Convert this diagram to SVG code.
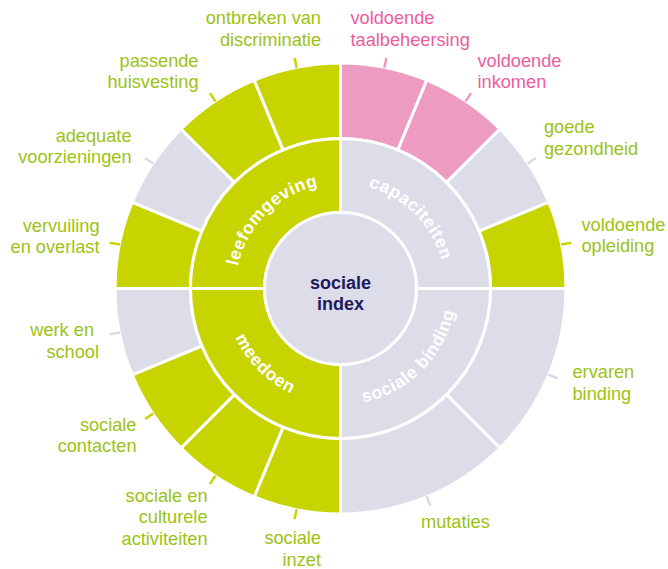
<svg xmlns="http://www.w3.org/2000/svg" width="668" height="569" viewBox="0 0 668 569">
<style>
.g{fill:#c8d400}
.p{fill:#ee9bc1}
.y{fill:#dddde9}
.seg{stroke:#fff;stroke-width:3;stroke-linejoin:miter}
.tk{stroke-width:2.5;fill:none}
.tg{stroke:#c8d400}
.tp{stroke:#ee9bc1}
.ty{stroke:#d9d9e7}
.lbl{font-family:"Liberation Sans",Arial,Helvetica,sans-serif;font-size:18.2px}
.lg{fill:#9bc314}
.lp{fill:#ec5d9e}
.ring{font-family:"Liberation Sans",Arial,Helvetica,sans-serif;font-size:17.5px;font-weight:bold;fill:#fff;letter-spacing:0.6px}
.ctr{font-family:"Liberation Sans",Arial,Helvetica,sans-serif;font-size:18px;font-weight:bold;fill:#1e1a5c}
</style>
<defs>
<path id="arcTL" d="M235.5,288.5 A105,105 0 0 1 340.5,183.5"/>
<path id="arcTR" d="M340.5,183.5 A105,105 0 0 1 445.5,288.5"/>
<path id="arcBL" d="M224.5,288.5 A116,116 0 0 0 340.5,404.5"/>
<path id="arcBR" d="M340.5,404.5 A116,116 0 0 0 456.5,288.5"/>
</defs>

<g id="outer-ring">
<path id="seg-taalbeheersing" class="seg p" d="M340.5,63 A225.5,225.5 0 0 1 426.8,80.16 L397.9,149.92 A150,150 0 0 0 340.5,138.5 Z"/>
<path id="seg-inkomen" class="seg p" d="M426.8,80.16 A225.5,225.5 0 0 1 499.95,129.05 L446.57,182.43 A150,150 0 0 0 397.9,149.92 Z"/>
<path id="seg-gezondheid" class="seg y" d="M499.95,129.05 A225.5,225.5 0 0 1 548.84,202.2 L479.08,231.1 A150,150 0 0 0 446.57,182.43 Z"/>
<path id="seg-opleiding" class="seg g" d="M548.84,202.2 A225.5,225.5 0 0 1 566,288.5 L490.5,288.5 A150,150 0 0 0 479.08,231.1 Z"/>
<path id="seg-ervaren" class="seg y" d="M566,288.5 A225.5,225.5 0 0 1 499.95,447.95 L446.57,394.57 A150,150 0 0 0 490.5,288.5 Z"/>
<path id="seg-mutaties" class="seg y" d="M499.95,447.95 A225.5,225.5 0 0 1 340.5,514 L340.5,438.5 A150,150 0 0 0 446.57,394.57 Z"/>
<path id="seg-inzet" class="seg g" d="M340.5,514 A225.5,225.5 0 0 1 254.2,496.84 L283.1,427.08 A150,150 0 0 0 340.5,438.5 Z"/>
<path id="seg-activiteiten" class="seg g" d="M254.2,496.84 A225.5,225.5 0 0 1 181.05,447.95 L234.43,394.57 A150,150 0 0 0 283.1,427.08 Z"/>
<path id="seg-contacten" class="seg g" d="M181.05,447.95 A225.5,225.5 0 0 1 132.16,374.8 L201.92,345.9 A150,150 0 0 0 234.43,394.57 Z"/>
<path id="seg-werk" class="seg y" d="M132.16,374.8 A225.5,225.5 0 0 1 115,288.5 L190.5,288.5 A150,150 0 0 0 201.92,345.9 Z"/>
<path id="seg-vervuiling" class="seg g" d="M115,288.5 A225.5,225.5 0 0 1 132.16,202.2 L201.92,231.1 A150,150 0 0 0 190.5,288.5 Z"/>
<path id="seg-voorzieningen" class="seg y" d="M132.16,202.2 A225.5,225.5 0 0 1 181.05,129.05 L234.43,182.43 A150,150 0 0 0 201.92,231.1 Z"/>
<path id="seg-huisvesting" class="seg g" d="M181.05,129.05 A225.5,225.5 0 0 1 254.2,80.16 L283.1,149.92 A150,150 0 0 0 234.43,182.43 Z"/>
<path id="seg-discriminatie" class="seg g" d="M254.2,80.16 A225.5,225.5 0 0 1 340.5,63 L340.5,138.5 A150,150 0 0 0 283.1,149.92 Z"/>
</g>

<g id="middle-ring">
<g id="leefomgeving">
<path class="seg g" d="M190.5,288.5 A150,150 0 0 1 340.5,138.5 L340.5,212.5 A76,76 0 0 0 264.5,288.5 Z"/>
<text class="ring"><textPath href="#arcTL" startOffset="50%" text-anchor="middle">leefomgeving</textPath></text>
</g>
<g id="capaciteiten">
<path class="seg y" d="M340.5,138.5 A150,150 0 0 1 490.5,288.5 L416.5,288.5 A76,76 0 0 0 340.5,212.5 Z"/>
<text class="ring"><textPath href="#arcTR" startOffset="50%" text-anchor="middle">capaciteiten</textPath></text>
</g>
<g id="sociale-binding">
<path class="seg y" d="M490.5,288.5 A150,150 0 0 1 340.5,438.5 L340.5,364.5 A76,76 0 0 0 416.5,288.5 Z"/>
<text class="ring"><textPath href="#arcBR" startOffset="50%" text-anchor="middle">sociale binding</textPath></text>
</g>
<g id="meedoen">
<path class="seg g" d="M340.5,438.5 A150,150 0 0 1 190.5,288.5 L264.5,288.5 A76,76 0 0 0 340.5,364.5 Z"/>
<text class="ring"><textPath href="#arcBL" startOffset="50%" text-anchor="middle">meedoen</textPath></text>
</g>
</g>

<g id="center">
<circle class="seg y" cx="340.5" cy="288.5" r="76"/>
<text class="ctr" x="340.5" y="289" text-anchor="middle">sociale</text>
<text class="ctr" x="340.5" y="310" text-anchor="middle">index</text>
</g>

<g id="connectors">
<line class="tk tp" x1="384.4" y1="67.82" x2="386.35" y2="58.01"/>
<line class="tk tp" x1="465.5" y1="101.42" x2="471.06" y2="93.1"/>
<line class="tk ty" x1="527.58" y1="163.5" x2="535.9" y2="157.94"/>
<line class="tk tg" x1="561.18" y1="244.6" x2="571.35" y2="242.65"/>
<line class="tk ty" x1="548.37" y1="374.6" x2="557.61" y2="378.43"/>
<line class="tk ty" x1="426.6" y1="496.37" x2="430.43" y2="505.61"/>
<line class="tk tg" x1="296.6" y1="509.18" x2="294.65" y2="518.99"/>
<line class="tk tg" x1="215.5" y1="475.58" x2="209.94" y2="483.9"/>
<line class="tk tg" x1="153.42" y1="413.5" x2="145.1" y2="419.06"/>
<line class="tk ty" x1="119.82" y1="332.4" x2="109.65" y2="334.35"/>
<line class="tk tg" x1="119.82" y1="244.6" x2="109.65" y2="242.65"/>
<line class="tk ty" x1="153.42" y1="163.5" x2="145.1" y2="157.94"/>
<line class="tk tg" x1="215.5" y1="101.42" x2="209.94" y2="93.1"/>
<line class="tk tg" x1="296.6" y1="67.82" x2="294.65" y2="58.01"/>
</g>

<g id="labels">
<g id="lbl-discriminatie" class="lbl lg" text-anchor="end"><text x="321" y="24">ontbreken van</text><text x="321" y="45.5">discriminatie</text></g>
<g id="lbl-taalbeheersing" class="lbl lp"><text x="350.5" y="24">voldoende</text><text x="350.5" y="45.5">taalbeheersing</text></g>
<g id="lbl-inkomen" class="lbl lp"><text x="477.5" y="66.5">voldoende</text><text x="477.5" y="88">inkomen</text></g>
<g id="lbl-gezondheid" class="lbl lg"><text x="544" y="133">goede</text><text x="544" y="154.5">gezondheid</text></g>
<g id="lbl-opleiding" class="lbl lg"><text x="581.5" y="230.5">voldoende</text><text x="581.5" y="252">opleiding</text></g>
<g id="lbl-ervaren" class="lbl lg"><text x="572.5" y="378">ervaren</text><text x="572.5" y="399.5">binding</text></g>
<g id="lbl-mutaties" class="lbl lg"><text x="421" y="528">mutaties</text></g>
<g id="lbl-inzet" class="lbl lg" text-anchor="end"><text x="321" y="544">sociale</text><text x="321" y="565.5">inzet</text></g>
<g id="lbl-activiteiten" class="lbl lg" text-anchor="end"><text x="207.5" y="501.5">sociale en</text><text x="207.5" y="523">culturele</text><text x="207.5" y="544.5">activiteiten</text></g>
<g id="lbl-contacten" class="lbl lg" text-anchor="end"><text x="136.5" y="430.5">sociale</text><text x="136.5" y="452">contacten</text></g>
<g id="lbl-werk" class="lbl lg" text-anchor="end"><text x="94" y="336">werk en</text><text x="99" y="357.5">school</text></g>
<g id="lbl-vervuiling" class="lbl lg" text-anchor="end"><text x="99.5" y="231.5">vervuiling</text><text x="99.5" y="253">en overlast</text></g>
<g id="lbl-voorzieningen" class="lbl lg" text-anchor="end"><text x="131.5" y="141.5">adequate</text><text x="131.5" y="163">voorzieningen</text></g>
<g id="lbl-huisvesting" class="lbl lg" text-anchor="end"><text x="198.5" y="66.5">passende</text><text x="198.5" y="88">huisvesting</text></g>
</g>
</svg>
